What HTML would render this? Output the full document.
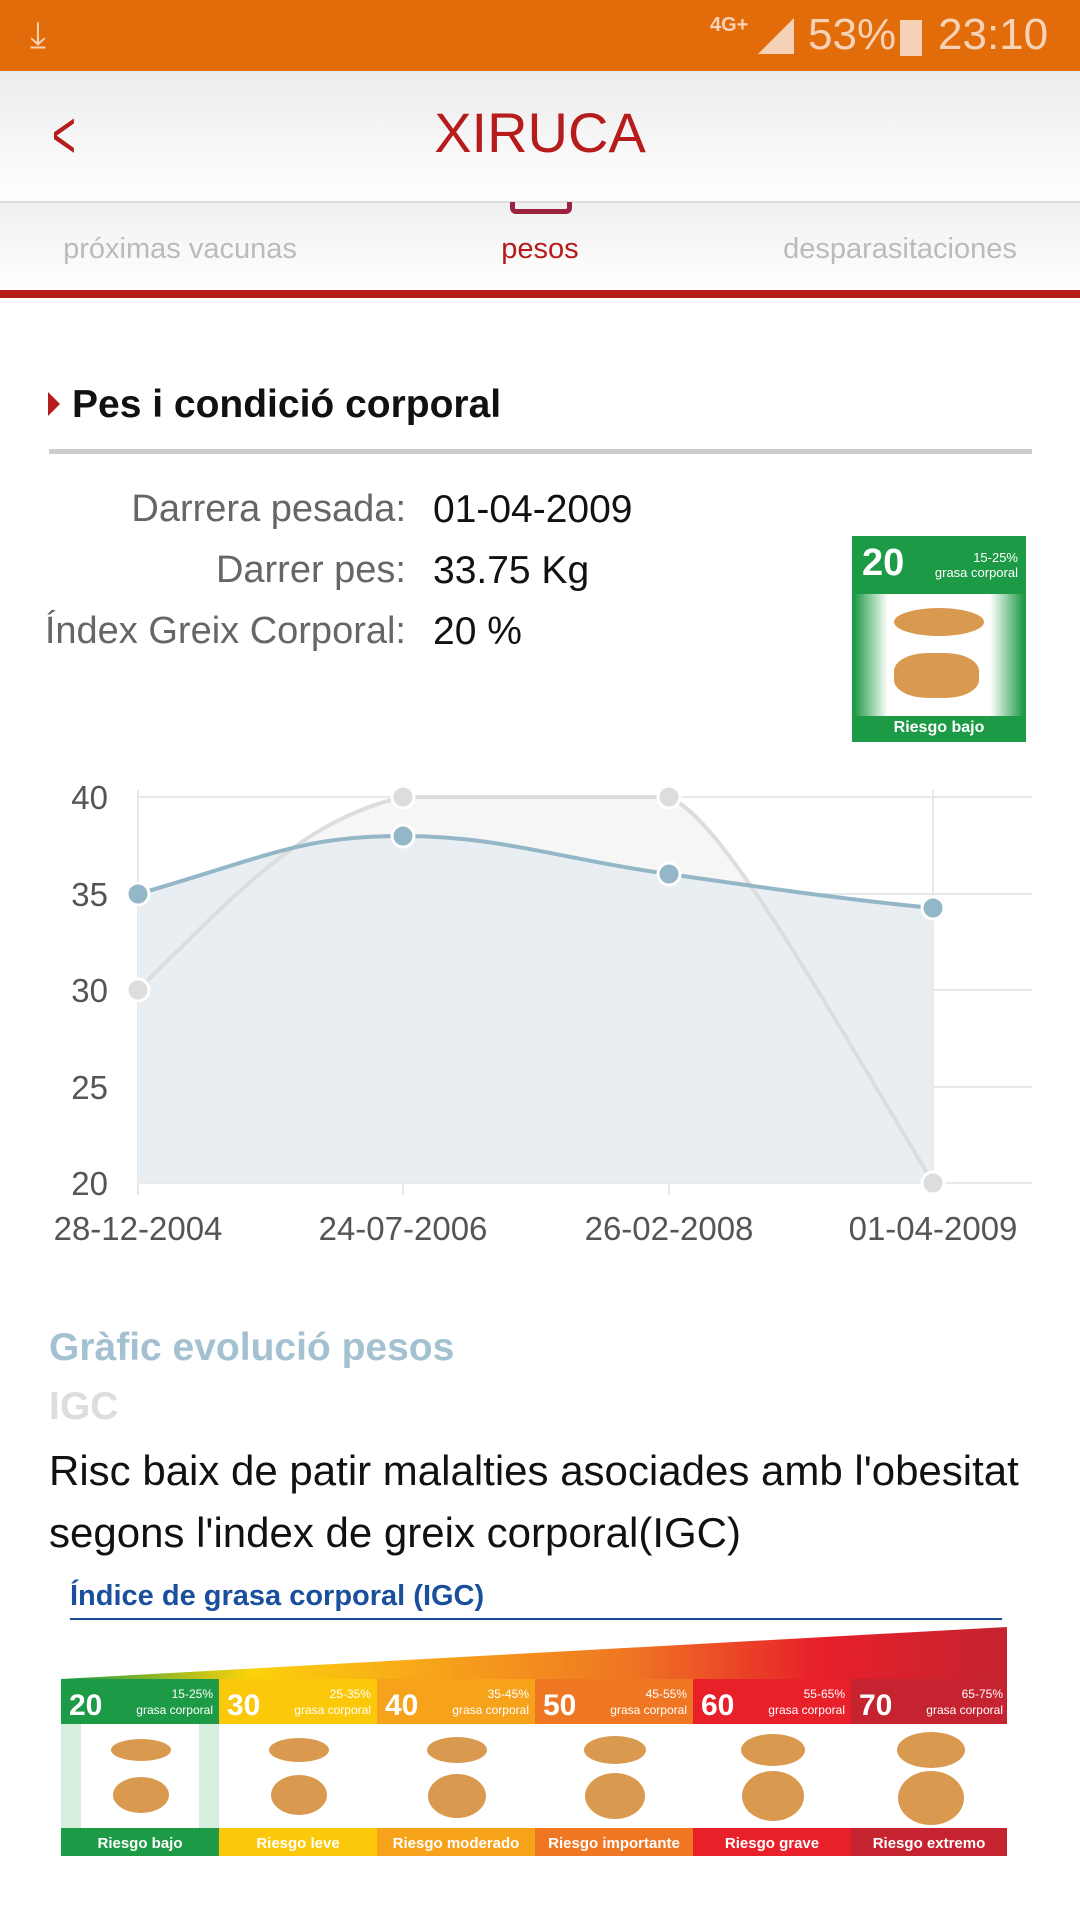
<!DOCTYPE html>
<html><head><meta charset="utf-8"><style>
*{margin:0;padding:0;box-sizing:border-box}
body{width:1080px;height:1920px;background:#fff;font-family:"Liberation Sans",Roboto,sans-serif;position:relative;overflow:hidden}
.a{position:absolute;white-space:nowrap}
</style></head><body>
<div class="a" style="left:0;top:0;width:1080px;height:71px;background:#E36C0A"></div>
<div class="a" style="left:30px;top:14px;color:#f6d3b6;font-size:36px">⤓</div>
<div class="a" style="left:710px;top:14px;color:#f6d3b6;font-size:20px;font-weight:bold">4G+</div>
<svg class="a" style="left:758px;top:18px" width="36" height="36"><polygon points="0,36 36,0 36,36" fill="#f6d3b6"/></svg>
<div class="a" style="left:808px;top:10px;color:#f6d3b6;font-size:44px">53%</div>
<div class="a" style="left:900px;top:20px;width:22px;height:36px;background:#f6d3b6"></div>
<div class="a" style="left:938px;top:10px;color:#f6d3b6;font-size:44px">23:10</div>
<div class="a" style="left:0;top:71px;width:1080px;height:131px;background:linear-gradient(#ececec,#fff)"></div>
<div class="a" style="left:44px;top:96px;color:#B71C1C;font-size:68px;transform:scaleX(.6)">&lt;</div>
<div class="a" style="left:0;top:100px;width:1080px;text-align:center;color:#B71C1C;font-size:56px">XIRUCA</div>
<div class="a" style="left:0;top:201px;width:1080px;height:89px;background:linear-gradient(#f0f0f0,#fff);border-top:2px solid #ddd"></div>
<div class="a" style="left:510px;top:202px;width:62px;height:12px;border:5px solid #9c2340;border-top:none;border-radius:0 0 6px 6px"></div>
<div class="a" style="left:0;top:233px;width:360px;text-align:center;color:#bbb;font-size:29px">próximas vacunas</div>
<div class="a" style="left:360px;top:233px;width:360px;text-align:center;color:#B71C1C;font-size:29px">pesos</div>
<div class="a" style="left:720px;top:233px;width:360px;text-align:center;color:#bbb;font-size:29px">desparasitaciones</div>
<div class="a" style="left:0;top:290px;width:1080px;height:8px;background:#B71C1C"></div>
<svg class="a" style="left:48px;top:392px" width="12" height="24"><polygon points="0,0 12,12 0,24" fill="#B71C1C"/></svg>
<div class="a" style="left:72px;top:383px;font-size:39px;font-weight:bold;color:#111">Pes i condició corporal</div>
<div class="a" style="left:49px;top:449px;width:983px;height:5px;background:#ccc"></div>
<div class="a" style="left:0;top:479px;width:406px;text-align:right;color:#666;font-size:38px;line-height:61px">Darrera pesada:<br>Darrer pes:<br>Índex Greix Corporal:</div>
<div class="a" style="left:433px;top:479px;color:#111;font-size:39px;line-height:61px">01-04-2009<br>33.75 Kg<br>20 %</div>
<div class="a" style="left:852px;top:536px;width:174px;height:206px;background:linear-gradient(90deg,#1d9a45,#fff 20%,#fff 80%,#1d9a45);border:2px solid #1d9a45">
<div style="background:#1d9a45;height:56px;color:#fff;font-weight:bold;font-size:38px;padding:4px 8px">20<span style="font-size:13px;font-weight:normal;position:absolute;right:6px;top:12px;text-align:right">15-25%<br>grasa corporal</span></div>
<div style="position:absolute;left:40px;top:70px;width:90px;height:28px;border-radius:50%;background:#d99a50"></div>
<div style="position:absolute;left:40px;top:115px;width:85px;height:45px;border-radius:40%;background:#d99a50"></div>
<div style="position:absolute;left:0;bottom:0;width:100%;height:24px;background:#1d9a45;color:#fff;font-weight:bold;font-size:16px;text-align:center;line-height:24px">Riesgo bajo</div></div>
<svg class="a" style="left:0;top:760px" width="1080" height="500" font-family="Liberation Sans" font-size="33" fill="#555">
<g stroke="#e8e8e8" stroke-width="2"><line x1="138" y1="37" x2="1032" y2="37"/><line x1="138" y1="134" x2="1032" y2="134"/><line x1="138" y1="230" x2="1032" y2="230"/><line x1="138" y1="327" x2="1032" y2="327"/><line x1="138" y1="423" x2="1032" y2="423"/><line x1="138" y1="30" x2="138" y2="435"/><line x1="403" y1="30" x2="403" y2="435"/><line x1="669" y1="30" x2="669" y2="435"/><line x1="933" y1="30" x2="933" y2="435"/></g>
<text x="108" y="49" text-anchor="end">40</text><text x="108" y="146" text-anchor="end">35</text><text x="108" y="242" text-anchor="end">30</text><text x="108" y="339" text-anchor="end">25</text><text x="108" y="435" text-anchor="end">20</text>
<path d="M138,230 C230,140 300,60 403,37 L669,37 C720,60 800,200 933,423 L138,423Z" fill="#f6f6f6"/>
<path d="M138,134 C270,96 300,76 403,76 C500,76 560,99 669,114 C780,130 850,140 933,148 L933,423 L138,423Z" fill="#e9eef2"/>
<path d="M138,230 C230,140 300,60 403,37 L669,37 C720,60 800,200 933,423" fill="none" stroke="#ddd" stroke-width="4"/>
<path d="M138,134 C270,96 300,76 403,76 C500,76 560,99 669,114 C780,130 850,140 933,148" fill="none" stroke="#94b7c8" stroke-width="4"/>
<g fill="#ddd" stroke="#fff" stroke-width="3"><circle cx="138" cy="230" r="11"/><circle cx="403" cy="37" r="11"/><circle cx="669" cy="37" r="11"/><circle cx="933" cy="423" r="11"/></g>
<g fill="#94b7c8" stroke="#fff" stroke-width="3"><circle cx="138" cy="134" r="11"/><circle cx="403" cy="76" r="11"/><circle cx="669" cy="114" r="11"/><circle cx="933" cy="148" r="11"/></g>
<text x="138" y="480" text-anchor="middle">28-12-2004</text><text x="403" y="480" text-anchor="middle">24-07-2006</text><text x="669" y="480" text-anchor="middle">26-02-2008</text><text x="933" y="480" text-anchor="middle">01-04-2009</text>
</svg>
<div class="a" style="left:49px;top:1326px;color:#a3c1d1;font-size:39px;font-weight:bold">Gràfic evolució pesos</div>
<div class="a" style="left:49px;top:1385px;color:#ddd;font-size:39px;font-weight:bold">IGC</div>
<div class="a" style="left:49px;top:1440px;color:#111;font-size:42px;line-height:62px">Risc baix de patir malalties asociades amb l'obesitat<br>segons l'index de greix corporal(IGC)</div>
<div class="a" style="left:70px;top:1580px;color:#1A4F9C;font-size:29px;font-weight:bold">Índice de grasa corporal (IGC)</div>
<div class="a" style="left:70px;top:1618px;width:932px;height:2px;background:#1A4F9C"></div>
<svg class="a" style="left:61px;top:1620px" width="950" height="240" font-family="Liberation Sans">
<defs><linearGradient id="w" x1="0" x2="1"><stop offset="0" stop-color="#1d9a45"/><stop offset=".2" stop-color="#fcd20a"/><stop offset=".4" stop-color="#f7a21b"/><stop offset=".6" stop-color="#ef7622"/><stop offset=".8" stop-color="#e8202a"/><stop offset="1" stop-color="#c4232f"/></linearGradient></defs>
<polygon points="0,59 946,7 946,59" fill="url(#w)"/>
<g font-weight="bold" fill="#fff">
<rect x="0" y="59" width="158" height="45" fill="#1d9a45"/><rect x="158" y="59" width="158" height="45" fill="#fcc80a"/><rect x="316" y="59" width="158" height="45" fill="#f7a21b"/><rect x="474" y="59" width="158" height="45" fill="#ef7622"/><rect x="632" y="59" width="158" height="45" fill="#e8202a"/><rect x="790" y="59" width="156" height="45" fill="#c4232f"/>
<rect x="0" y="208" width="158" height="28" fill="#1d9a45"/><rect x="158" y="208" width="158" height="28" fill="#fcc80a"/><rect x="316" y="208" width="158" height="28" fill="#f7a21b"/><rect x="474" y="208" width="158" height="28" fill="#ef7622"/><rect x="632" y="208" width="158" height="28" fill="#e8202a"/><rect x="790" y="208" width="156" height="28" fill="#c4232f"/>
<rect x="0" y="104" width="20" height="104" fill="#d6eedd"/><rect x="138" y="104" width="20" height="104" fill="#d6eedd"/>
<g font-size="30"><text x="8" y="95">20</text><text x="166" y="95">30</text><text x="324" y="95">40</text><text x="482" y="95">50</text><text x="640" y="95">60</text><text x="798" y="95">70</text></g>
<g font-size="15" text-anchor="middle"><text x="79" y="228">Riesgo bajo</text><text x="237" y="228">Riesgo leve</text><text x="395" y="228">Riesgo moderado</text><text x="553" y="228">Riesgo importante</text><text x="711" y="228">Riesgo grave</text><text x="868" y="228">Riesgo extremo</text></g>
<g font-size="12" font-weight="normal" text-anchor="end"><text x="152" y="78">15-25%</text><text x="310" y="78">25-35%</text><text x="468" y="78">35-45%</text><text x="626" y="78">45-55%</text><text x="784" y="78">55-65%</text><text x="942" y="78">65-75%</text>
<text x="152" y="94">grasa corporal</text><text x="310" y="94">grasa corporal</text><text x="468" y="94">grasa corporal</text><text x="626" y="94">grasa corporal</text><text x="784" y="94">grasa corporal</text><text x="942" y="94">grasa corporal</text></g></g>
<g fill="#d99a50"><ellipse cx="80" cy="130" rx="30" ry="11"/><ellipse cx="80" cy="175" rx="28" ry="18"/><ellipse cx="238" cy="130" rx="30" ry="12"/><ellipse cx="238" cy="175" rx="28" ry="20"/><ellipse cx="396" cy="130" rx="30" ry="13"/><ellipse cx="396" cy="176" rx="29" ry="22"/><ellipse cx="554" cy="130" rx="31" ry="14"/><ellipse cx="554" cy="176" rx="30" ry="23"/><ellipse cx="712" cy="130" rx="32" ry="16"/><ellipse cx="712" cy="176" rx="31" ry="25"/><ellipse cx="870" cy="130" rx="34" ry="18"/><ellipse cx="870" cy="178" rx="33" ry="27"/></g>
</svg>
</body></html>
